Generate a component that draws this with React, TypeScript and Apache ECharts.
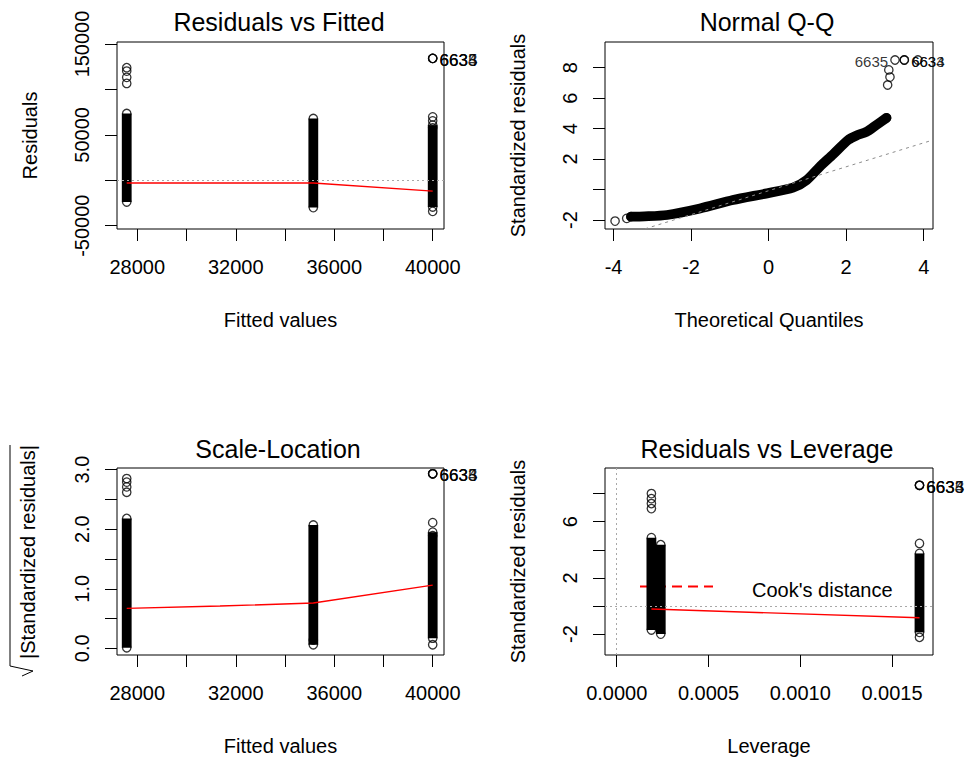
import { useEffect, useRef } from "react";
import * as echarts from "echarts";

// ---------- Residuals vs Fitted ----------
const fittedLevels = [27570, 35150, 40000];
const residBandLow = [-23900, -30100, -29400];
const residBandHigh = [73500, 68000, 60700];
const residOutliers = [
  [27570, 123900], [27570, 120200], [27570, 113300], [27570, 106600],
  [40000, 69800], [40000, 65400], [40000, 57700], [40000, -34200],
];
const residFlagged = [[40000, 134200], [40000, 134200], [40000, 134200]];
const residSmooth = [[27570, -3000], [35150, -3000], [40000, -12000]];
const fittedTicks = [28000, 30000, 32000, 34000, 36000, 38000, 40000];
const fittedLabels = [28000, 32000, 36000, 40000];
const residTicks = [-50000, 0, 50000, 100000, 150000];
const residLabels = [-50000, 50000, 150000];

// ---------- Normal Q-Q ----------
const qqBand = [
  [-3.55, -1.78], [-3.2, -1.76], [-2.62, -1.67], [-1.77, -1.24], [-0.92, -0.69],
  [-0.04, -0.25], [0.63, 0.12], [0.98, 0.62], [1.32, 1.5], [1.66, 2.3],
  [2.05, 3.25], [2.27, 3.55], [2.52, 3.78], [2.78, 4.24], [3.04, 4.7],
];
const qqTail = [
  [-3.96, -2.07], [-3.66, -1.89], [3.07, 6.86], [3.13, 7.38], [3.1, 7.85], [3.85, 8.5],
];
const qqFlagged = [[3.26, 8.5], [3.5, 8.5], [3.5, 8.5]];
const qqFlaggedIds = ["6635", "6634", "6633"];
const qqFlaggedSide = ["left", "right", "right"];
const qqLine = [[-4.22, -3.39], [4.24, 3.25]];
const qqXTicks = [-4, -2, 0, 2, 4];
const qqYTicks = [-2, 0, 2, 4, 6, 8];
const qqYLabels = [-2, 2, 4, 6, 8];

// ---------- Scale-Location ----------
const slBandLow = [0.01, 0.06, 0.17];
const slBandHigh = [2.18, 2.07, 1.95];
const slOutliers = [
  [27570, 2.85], [27570, 2.79], [27570, 2.71], [27570, 2.62],
  [35150, 0.14], [40000, 2.11], [40000, 1.89], [40000, 0.06],
];
const slFlagged = [[40000, 2.93], [40000, 2.93], [40000, 2.93]];
const slSmooth = [[27570, 0.67], [31360, 0.71], [35150, 0.76], [40000, 1.06]];
const slTicks = [0, 0.5, 1, 1.5, 2, 2.5, 3];
const slLabels = [0, 1, 2, 3];

// ---------- Residuals vs Leverage ----------
const levColumns = [0.000189, 0.00024, 0.00165];
const levBandLow = [-1.71, -2.0, -1.88];
const levBandHigh = [4.86, 4.36, 3.74];
const levOutliers = [
  [0.000189, 8.0], [0.000189, 7.64], [0.000189, 7.29], [0.000189, 6.93],
  [0.00165, 4.45], [0.00165, -2.23],
];
const levFlagged = [[0.00165, 8.59], [0.00165, 8.59], [0.00165, 8.59]];
const levSmooth = [[0.000189, -0.22], [0.00165, -0.84]];
const levXTicks = [0, 0.0005, 0.001, 0.0015];
const levYTicks = [-2, 0, 2, 4, 6, 8];
const levYLabels = [-2, 2, 6];

const flaggedIds = ["6633", "6634", "6635"];

const FONT = "'Liberation Sans', Arial, sans-serif";
const INK = "#000";
const SMOOTH = "#ff0000";
const REF = "#a8a8a8";
const BAND_W = 9.8;

const grids = [
  { left: 117, top: 42, width: 327, height: 187 },
  { left: 605, top: 42, width: 328, height: 187 },
  { left: 117, top: 468, width: 327, height: 187 },
  { left: 605, top: 468, width: 328, height: 187 },
];

function xAxis(p: number, min: number, max: number, ticks: number[], labels: number[], fmt: (v: number) => string, name: string) {
  return {
    type: "value", gridIndex: p, min, max, position: "bottom",
    axisLine: { show: false, onZero: false }, splitLine: { show: false },
    axisTick: { show: true, inside: false, length: 12, customValues: ticks, lineStyle: { color: INK, width: 1 } },
    axisLabel: { customValues: labels, formatter: fmt, margin: 28, fontSize: 20, fontFamily: FONT, color: INK },
    name, nameLocation: "middle", nameGap: 81,
    nameTextStyle: { fontSize: 20, fontFamily: FONT, color: INK },
  };
}

function yAxis(p: number, min: number, max: number, ticks: number[], labels: number[], fmt: (v: number) => string, name: string) {
  return {
    type: "value", gridIndex: p, min, max, position: "left",
    axisLine: { show: false, onZero: false }, splitLine: { show: false },
    axisTick: { show: true, inside: false, length: 12, customValues: ticks, lineStyle: { color: INK, width: 1 } },
    axisLabel: { customValues: labels, formatter: fmt, rotate: 90, margin: 25, fontSize: 20, fontFamily: FONT, color: INK },
    name, nameLocation: "middle", nameGap: 77,
    nameTextStyle: { fontSize: 20, fontFamily: FONT, color: INK },
  };
}

function bandSeries(p: number, xs: number[], lows: number[], highs: number[]) {
  return xs.map((x, i) => ({
    type: "line", xAxisIndex: p, yAxisIndex: p, silent: true, z: 2,
    data: [[x, lows[i]], [x, highs[i]]],
    showSymbol: false,
    lineStyle: { color: INK, width: BAND_W, cap: "butt" },
  }));
}

function circles(p: number, pts: number[][]) {
  return {
    type: "scatter", xAxisIndex: p, yAxisIndex: p, silent: true, z: 3,
    data: pts, symbol: "circle", symbolSize: 8.4,
    itemStyle: { color: "rgba(0,0,0,0)", borderColor: INK, borderWidth: 1.3 },
  };
}

function idLabel(position: string, size: number) {
  return { show: true, position, distance: 2, formatter: "{b}", fontSize: size, fontFamily: FONT, color: INK, offset: [0, 2] };
}

function flagged(p: number, pts: number[][], ids: string[], sides: string[], size: number) {
  return {
    type: "scatter", xAxisIndex: p, yAxisIndex: p, silent: true, z: 4,
    symbol: "circle", symbolSize: 8.4,
    itemStyle: { color: "rgba(0,0,0,0)", borderColor: INK, borderWidth: 1.3 },
    data: pts.map((v, i) => ({ name: ids[i], value: v, label: idLabel(sides[i], size) })),
  };
}

function smooth(p: number, pts: number[][]) {
  return {
    type: "line", xAxisIndex: p, yAxisIndex: p, silent: true, z: 6,
    data: pts, showSymbol: false,
    lineStyle: { color: SMOOTH, width: 1.4 },
  };
}

function refLines(p: number, marks: object[]) {
  return {
    type: "line", xAxisIndex: p, yAxisIndex: p, silent: true, z: 5, data: [],
    markLine: {
      silent: true, symbol: "none", label: { show: false },
      lineStyle: { color: REF, type: [2, 3], width: 1 },
      data: marks,
    },
  };
}

const bandEnds = (xs: number[], lows: number[], highs: number[]) =>
  xs.flatMap((x, i) => [[x, lows[i]], [x, highs[i]]]);

const intFmt = (v: number) => String(v);
const oneFmt = (v: number) => v.toFixed(1);
const fourFmt = (v: number) => v.toFixed(4);
const right3 = ["right", "right", "right"];

function buildOption() {
  const series: any[] = [
    // Residuals vs Fitted
    ...bandSeries(0, fittedLevels, residBandLow, residBandHigh),
    circles(0, [...bandEnds(fittedLevels, residBandLow, residBandHigh), ...residOutliers]),
    flagged(0, residFlagged, flaggedIds, right3, 17),
    refLines(0, [{ yAxis: 0 }]),
    smooth(0, residSmooth),

    // Normal Q-Q
    {
      type: "line", xAxisIndex: 1, yAxisIndex: 1, silent: true, z: 2,
      data: qqBand, showSymbol: false, smooth: 0.25,
      lineStyle: { color: INK, width: BAND_W, cap: "round", join: "round" },
    },
    circles(1, [qqBand[0], qqBand[qqBand.length - 1], ...qqTail]),
    flagged(1, qqFlagged, qqFlaggedIds, qqFlaggedSide, 15),
    {
      type: "line", xAxisIndex: 1, yAxisIndex: 1, silent: true, z: 5,
      data: qqLine, showSymbol: false,
      lineStyle: { color: "#8c8c8c", type: [3, 4], width: 1 },
    },

    // Scale-Location
    ...bandSeries(2, fittedLevels, slBandLow, slBandHigh),
    circles(2, [...bandEnds(fittedLevels, slBandLow, slBandHigh), ...slOutliers]),
    flagged(2, slFlagged, flaggedIds, right3, 17),
    smooth(2, slSmooth),

    // Residuals vs Leverage
    ...bandSeries(3, levColumns, levBandLow, levBandHigh),
    circles(3, [...bandEnds(levColumns, levBandLow, levBandHigh), ...levOutliers]),
    flagged(3, levFlagged, flaggedIds, right3, 17),
    refLines(3, [{ yAxis: 0 }, { xAxis: 0 }]),
    smooth(3, levSmooth),
  ];

  const titleText = (text: string, x: number, y: number) => ({
    type: "text", x, y, silent: true,
    style: { text, fontSize: 25, fontFamily: FONT, fill: INK, align: "center", verticalAlign: "middle" },
  });

  return {
    animation: false,
    backgroundColor: "#fff",
    textStyle: { fontFamily: FONT, color: INK },
    grid: grids.map((g) => ({ ...g, show: true, borderColor: INK, borderWidth: 1, backgroundColor: "transparent" })),
    xAxis: [
      xAxis(0, 27175, 40459, fittedTicks, fittedLabels, intFmt, "Fitted values"),
      xAxis(1, -4.22, 4.24, qqXTicks, qqXTicks, intFmt, "Theoretical Quantiles"),
      xAxis(2, 27175, 40459, fittedTicks, fittedLabels, intFmt, "Fitted values"),
      xAxis(3, -0.0000638, 0.0017236, levXTicks, levXTicks, fourFmt, "Leverage"),
    ],
    yAxis: [
      yAxis(0, -53640, 152200, residTicks, residLabels, intFmt, "Residuals"),
      yAxis(1, -2.59, 9.68, qqYTicks, qqYLabels, intFmt, "Standardized residuals"),
      yAxis(2, -0.112, 3.027, slTicks, slLabels, oneFmt, ""),
      yAxis(3, -3.49, 9.82, levYTicks, levYLabels, intFmt, "Standardized residuals"),
    ],
    series,
    graphic: [
      titleText("Residuals vs Fitted", 279, 22),
      titleText("Normal Q-Q", 767, 22),
      titleText("Scale-Location", 278, 449),
      titleText("Residuals vs Leverage", 767, 449),
      // y title of the scale-location panel: square root of |standardized residuals|
      {
        type: "text", x: 28, y: 552, rotation: Math.PI / 2, silent: true,
        style: { text: "|Standardized residuals|", fontSize: 20, fontFamily: FONT, fill: INK, align: "center", verticalAlign: "middle" },
      },
      {
        type: "polyline", silent: true,
        shape: { points: [[22, 676], [33, 671], [10, 666], [10, 445]] },
        style: { stroke: INK, lineWidth: 1, fill: null },
      },
      // Cook's distance key
      {
        type: "line", silent: true,
        shape: { x1: 640, y1: 586.5, x2: 713, y2: 586.5 },
        style: { stroke: SMOOTH, lineWidth: 2, lineDash: [10, 6] },
      },
      {
        type: "text", x: 752, y: 590, silent: true,
        style: { text: "Cook's distance", fontSize: 20, fontFamily: FONT, fill: INK, align: "left", verticalAlign: "middle" },
      },
    ],
  };
}

export default function App() {
  const ref = useRef<HTMLDivElement>(null);
  useEffect(() => {
    const chart = echarts.init(ref.current!, null, { renderer: "svg" });
    chart.setOption(buildOption() as any);
    return () => chart.dispose();
  }, []);
  return (
    <div
      ref={ref}
      style={{ position: "absolute", left: 0, top: 0, width: 969, height: 762, background: "#fff" }}
    />
  );
}
